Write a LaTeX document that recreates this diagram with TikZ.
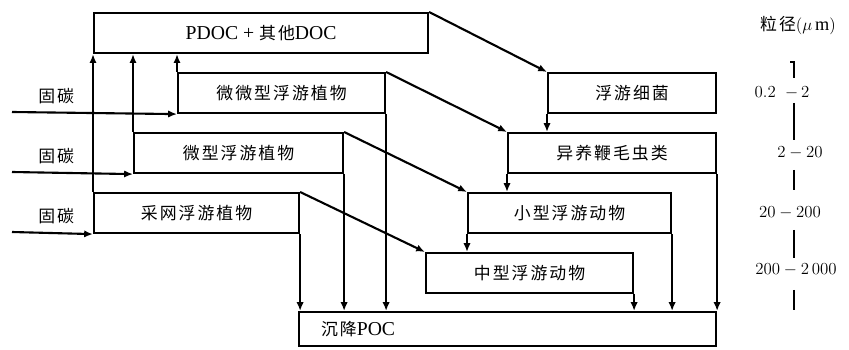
\documentclass[tikz,border=0pt]{standalone}
\usepackage{fontspec}
\setmainfont{Liberation Serif}
\newfontfamily\cjk[LetterSpace=12]{Noto Sans CJK SC}
\usetikzlibrary{arrows.meta,positioning}
\newcommand{\zh}[1]{{\cjk\fontsize{12}{14}\selectfont #1}}
\tikzset{
  >={Latex[length=2.2mm,width=1.8mm]},
  box/.style={draw,line width=1.5pt,minimum height=1cm,minimum width=#1,
    anchor=north west,inner sep=0pt,font=\fontsize{14}{16}\selectfont},
  flow/.style={->,line width=1.5pt},
  tag/.style={font=\fontsize{12}{14}\selectfont,inner sep=0pt},
  size/.style={font=\fontsize{11.5}{13}\selectfont,inner sep=0pt},
  scalebar/.style={line width=1.5pt},
}

\begin{document}
\begin{tikzpicture}
  \useasboundingbox (0,0) rectangle (21.225,8.75);
  % boxes
  \node[box=8.35cm] (pdoc) at (2.325,8.45) {PDOC\ +\ \zh{其他}DOC};
  \node[box=5.175cm] (pico) at (4.425,6.95) {\zh{微微型浮游植物}};
  \node[box=5.225cm] (nano) at (3.325,5.45) {\zh{微型浮游植物}};
  \node[box=5.125cm] (net) at (2.325,3.95) {\zh{采网浮游植物}};
  \node[box=4.2cm] (bact) at (13.675,6.95) {\zh{浮游细菌}};
  \node[box=5.2cm] (hnf) at (12.675,5.45) {\zh{异养鞭毛虫类}};
  \node[box=5.075cm] (mzoo) at (11.675,3.95) {\zh{小型浮游动物}};
  \node[box=5.175cm] (meso) at (10.625,2.45) {\zh{中型浮游动物}};
  \node[box=10.425cm,minimum height=0.85cm,text width=9.325cm,align=left,
    inner xsep=0.55cm] (poc) at (7.45,0.975) {\zh{沉降}POC};
  % carbon fixation
  \coordinate (in1) at (0.3,5.95);
  \coordinate (in2) at (0.3,4.45);
  \coordinate (in3) at (0.3,2.95);
  \foreach \i/\b in {1/pico,2/nano,3/net}{
    \draw[flow] (in\i) -- (\b.south west);
    \node[tag,above right=0.2cm and 0.65cm of in\i] (fix\i) {\zh{固碳}};
  }
  % release to DOC
  \draw[flow] (net.north west) -- (pdoc.south west);
  \draw[flow] (nano.north west) -- (nano.north west |- pdoc.south);
  \draw[flow] (pico.north west) -- (pico.north west |- pdoc.south);
  % grazing
  \draw[flow] (pdoc.north east) -- (bact.north west);
  \draw[flow] (pico.north east) -- (hnf.north west);
  \draw[flow] (nano.north east) -- (mzoo.north west);
  \draw[flow] (net.north east) -- (meso.north west);
  \draw[flow] (bact.south west) -- (bact.south west |- hnf.north);
  \draw[flow] (hnf.south west) -- (hnf.south west |- mzoo.north);
  \draw[flow] (mzoo.south west) -- (mzoo.south west |- meso.north);
  % sinking
  \foreach \b in {net,nano,pico,meso,mzoo,hnf}
    \draw[flow] (\b.south east) -- (\b.south east |- poc.north);
  % size scale
  \node[tag,font=\fontsize{13}{15}\selectfont] (dia) at (19.95,8.1)
    {\zh{粒径}$(\mu\,\mathrm{m})$};
  \node[size] (s1) at (19.55,6.425) {$0.2\;\;{-}\,2$};
  \node[size] (s2) at (20.0,4.925) {$2-20$};
  \node[size] (s3) at (19.75,3.425) {$20-200$};
  \node[size] (s4) at (19.9,2.0) {$200-2\,000$};
  \draw[scalebar] (19.75,7.2) -- (19.85,7.2) -- (19.85,6.8);
  \foreach \a/\b in {6.175/5.25,4.5/4.0,3.0/2.3,1.5/1.0}
    \draw[scalebar] (19.85,\a) -- (19.85,\b);
\end{tikzpicture}
\end{document}
